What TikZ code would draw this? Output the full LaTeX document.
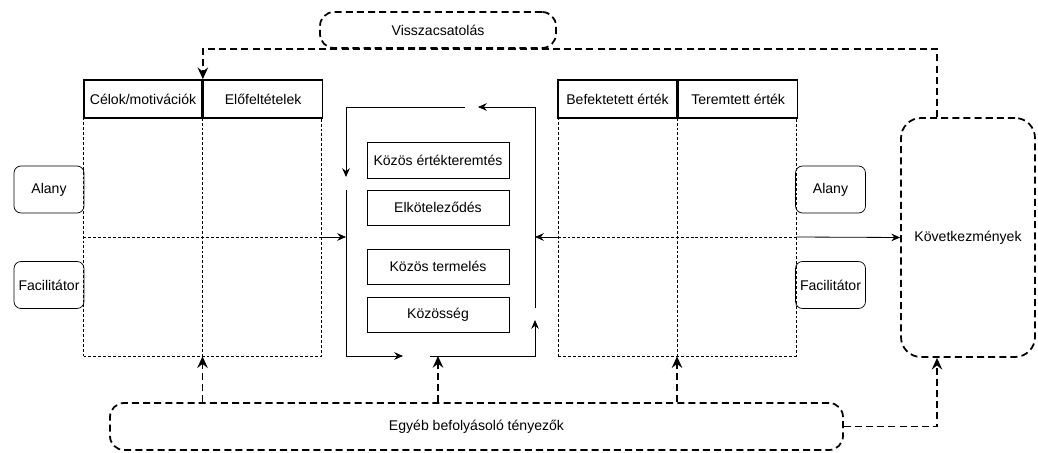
\documentclass[tikz,border=0pt]{standalone}
\usepackage{fontspec}
\setmainfont{Liberation Sans}
\usetikzlibrary{arrows.meta}
\newcommand{\pxl}[1]{#1*0.03cm}
\tikzset{
  hdr/.style={draw, line width=1.4pt, minimum height=\pxl{38}, inner sep=0pt},
  cell/.style={draw, line width=0.5pt, dash pattern=on 2.5pt off 1.7pt, minimum width=\pxl{238}, minimum height=\pxl{238}, inner sep=0pt},
  grid/.style={line width=0.5pt, dash pattern=on 2.5pt off 1.7pt},
  actor/.style={draw, line width=0.6pt, rounded corners=\pxl{7}, minimum width=\pxl{70}, minimum height=\pxl{47}, inner sep=0pt},
  stage/.style={draw, line width=0.7pt, minimum width=\pxl{142}, minimum height=\pxl{35}, inner sep=0pt},
  fbbox/.style={draw, line width=1.5pt, dash pattern=on 6pt off 3.5pt, rounded corners=\pxl{14}, inner sep=0pt},
  fb/.style={line width=1.5pt, dash pattern=on 6pt off 3.5pt, -{Stealth[length=10pt,width=9pt,inset=3.5pt]}},
  flow/.style={line width=0.7pt, -{Stealth[length=7.5pt,width=6.5pt,inset=2.5pt]}}
}
\begin{document}
\begin{tikzpicture}[x=0.03cm, y=-0.03cm, font=\fontsize{12}{14}\selectfont]
\useasboundingbox (0,0) rectangle (1038,453);
%feedback and other factors
\node[fbbox, minimum width=\pxl{236}, minimum height=\pxl{36}] (viss) at (438,30) {Visszacsatolás};
\node[fbbox, minimum width=\pxl{733}, minimum height=\pxl{47}] (egyeb) at (476.5,426.5) {Egyéb befolyásoló tényezők};
\node[fbbox, rounded corners=\pxl{20}, minimum width=\pxl{134}, minimum height=\pxl{239}] (kov) at (968,237.5) {Következmények};
\coordinate (kovport) at (937,0);
%left table
\node[hdr, minimum width=\pxl{118}] (celok) at (143,99) {Célok/motivációk};
\node[hdr, minimum width=\pxl{119}, anchor=west] (elof) at (celok.east) {Előfeltételek};
\node[cell] (lbody) at (202.5,237) {};
\draw[grid] (lbody.north) -- (lbody.south) (lbody.west) -- (lbody.east);
\node[actor] (alany1) at (49,189.5) {Alany};
\node[actor] (facil1) at (49,285) {Facilitátor};
%right table
\node[hdr, minimum width=\pxl{119}] (befek) at (617.5,99) {Befektetett érték};
\node[hdr, minimum width=\pxl{119}, anchor=west] (terem) at (befek.east) {Teremtett érték};
\node[cell] (rbody) at (677,237) {};
\draw[grid] (rbody.north) -- (rbody.south) (rbody.west) -- (rbody.east);
\node[actor] (alany2) at (830.5,189.5) {Alany};
\node[actor] (facil2) at (830.5,285) {Facilitátor};
%middle cycle
\node[stage, minimum height=\pxl{36}] (ertek) at (438,160) {Közös értékteremtés};
\node[stage] (elkot) at (438,207.5) {Elköteleződés};
\node[stage] (term) at (438,266.5) {Közös termelés};
\node[stage] (koz) at (438,314.5) {Közösség};
\coordinate (loopA) at (465,107); \coordinate (loopA2) at (346,177);
\coordinate (loopB) at (346,190); \coordinate (loopB2) at (403,356);
\coordinate (loopC) at (430,356); \coordinate (loopC2) at (535,320);
\coordinate (loopD) at (535,308); \coordinate (loopD2) at (478,107);
\coordinate (loopW) at (346,237); \coordinate (loopE) at (535,237);
\coordinate (loopS) at (438,356);
\draw[flow] (loopA) -| (loopA2);
\draw[flow] (loopB) |- (loopB2);
\draw[flow] (loopC) -| (loopC2);
\draw[flow] (loopD) |- (loopD2);
%connectors
\draw[flow] (lbody.east) -- (loopW);
\draw[flow] (rbody.west) -- (loopE);
\draw[flow] (rbody.east) -- (kov.west);
\draw[fb] (kov.north -| kovport) |- (viss.south) -| (celok.north east);
\draw[fb] (egyeb.north -| lbody.south) -- (lbody.south);
\draw[fb] (egyeb.north -| loopS) -- (loopS);
\draw[fb] (egyeb.north -| rbody.south) -- (rbody.south);
\draw[fb] (egyeb.east) -| (kov.south -| kovport);
\end{tikzpicture}
\end{document}
